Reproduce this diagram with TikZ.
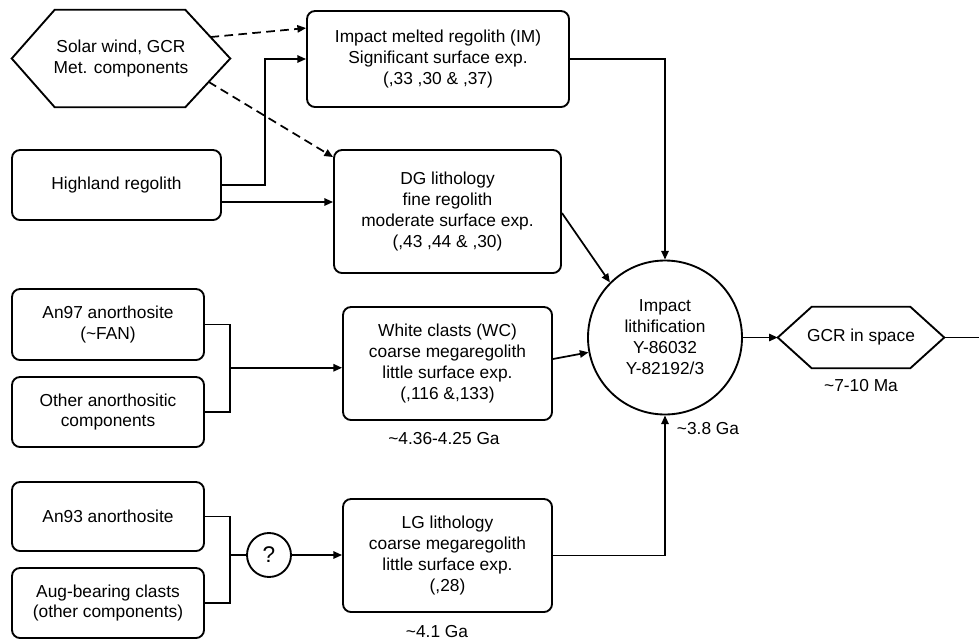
\documentclass[tikz,border=0pt]{standalone}
\usepackage{fontspec}
\setmainfont{Liberation Sans}
\usetikzlibrary{arrows.meta,calc}
\tikzset{
  rbox/.style 2 args={draw, line width=1.4pt, rounded corners=6pt, align=center,
    minimum width=#1*0.75pt, minimum height=#2*0.75pt, inner sep=2pt},
  hexbox/.style 2 args={align=center, minimum width=#1*0.75pt, minimum height=#2*0.75pt, inner sep=0pt},
  hexline/.style={line width=1.4pt, line join=miter},
  conn/.style={line width=1.3pt, -{Triangle[length=6.5pt,width=5.5pt]}},
  plain/.style={line width=1.3pt},
  dconn/.style={line width=1.3pt, dash pattern=on 6.5pt off 4pt, -{Triangle[length=6.5pt,width=5.5pt]}},
  lbl/.style={inner sep=0pt}
}
\begin{document}
\begin{tikzpicture}[x=0.75pt,y=-0.75pt,font=\fontsize{13}{15.7}\selectfont]
\useasboundingbox (0,0) rectangle (979,640);

% hexagon: Solar wind
\node[hexbox={218}{97}] (sw) at (121,58.5) {Solar wind, GCR\\Met. components};
\coordinate (swtl) at ($(sw.north west)+(43,0)$);
\coordinate (swtr) at ($(sw.north east)+(-45,0)$);
\coordinate (swbr) at ($(sw.south east)+(-45,0)$);
\coordinate (swbl) at ($(sw.south west)+(43,0)$);
\draw[hexline] (sw.west) -- (swtl) -- (swtr) -- (sw.east) -- (swbr) -- (swbl) -- cycle;

% boxes
\node[rbox={262}{96}] (im) at (438,59) {Impact melted regolith (IM)\\Significant surface exp.\\(,33 ,30 \& ,37)};
\node[rbox={209}{70}] (hl) at (116.5,185) {Highland regolith};
\node[rbox={227}{123}] (dg) at (447.5,211.5) {DG lithology\\fine regolith\\moderate surface exp.\\(,43 ,44 \& ,30)};
\node[rbox={192}{71}] (an97) at (108,324.5) {An97 anorthosite\\(\textasciitilde FAN)};
\node[rbox={192}{70}] (oth) at (108,412) {Other anorthositic\\components};
\node[rbox={209}{113}] (wc) at (447.5,363.5) {White clasts (WC)\\coarse megaregolith\\little surface exp.\\(,116 \&,133)};
\node[rbox={192}{69}] (an93) at (108,516.5) {An93 anorthosite};
\node[rbox={192}{70}] (aug) at (108,603) {Aug-bearing clasts\\(other components)};
\node[rbox={209}{113}] (lg) at (447.5,555.5) {LG lithology\\coarse megaregolith\\little surface exp.\\(,28)};
\node[draw, circle, line width=1.4pt, minimum size=44*0.75pt, inner sep=0pt, font=\fontsize{17}{20}\selectfont] (q) at (269,555) {?};
\node[draw, circle, line width=1.4pt, minimum size=154*0.75pt, inner sep=0pt, align=center] (imp) at (665,337.5) {Impact\\lithification\\Y-86032\\Y-82192/3};

% hexagon: GCR in space
\node[hexbox={166}{61}] (gcr) at (861,337.5) {GCR in space};
\coordinate (gtl) at ($(gcr.north west)+(34,0)$);
\coordinate (gtr) at ($(gcr.north east)+(-34,0)$);
\coordinate (gbr) at ($(gcr.south east)+(-34,0)$);
\coordinate (gbl) at ($(gcr.south west)+(34,0)$);
\draw[hexline] (gcr.west) -- (gtl) -- (gtr) -- (gcr.east) -- (gbr) -- (gbl) -- cycle;

% labels
\node[lbl] (t1) at (444,439) {\textasciitilde 4.36-4.25 Ga};
\node[lbl] (t2) at (437,632) {\textasciitilde 4.1 Ga};
\node[lbl] (t3) at (708,429) {\textasciitilde 3.8 Ga};
\node[lbl] (t4) at (861,386) {\textasciitilde 7-10 Ma};

% connectors
\draw[dconn] ($(swtr)!0.56!(sw.east)$) -- ($(im.north west)+(0,18)$);
\draw[dconn] ($(sw.east)!0.48!(swbr)$) -- ($(dg.north west)+(0,8)$);
\draw[conn] (hl.east) -- ++(43,0) |- (im.west);
\coordinate (h2) at ($(hl.east)+(0,17)$);
\draw[conn] (h2) -- (h2 -| dg.west);
\draw[conn] (im.east) -| (imp.north);
\draw[conn] ($(dg.east)+(0,1.5)$) -- (imp.135);
\draw[conn] ($(wc.east)+(0,-4.5)$) -- (imp.191);
\draw[conn] (lg.east) -| (imp.south);
\draw[conn] (imp.east) -- (gcr.west);
\coordinate (out) at (979,337.5);
\draw[plain] (gcr.east) -- (out);

% bracket WC
\coordinate (j1) at (230,367.75);
\draw[plain] (an97.east) -- (an97.east -| j1) -- (oth.east -| j1) -- (oth.east);
\draw[conn] (j1) -- (j1 -| wc.west);
% bracket LG
\coordinate (j2) at (230,555);
\draw[plain] (an93.east) -- (an93.east -| j2) -- (aug.east -| j2) -- (aug.east);
\draw[plain] (j2) -- (q.west);
\draw[conn] (q.east) -- (q.east -| lg.west);
\end{tikzpicture}
\end{document}
